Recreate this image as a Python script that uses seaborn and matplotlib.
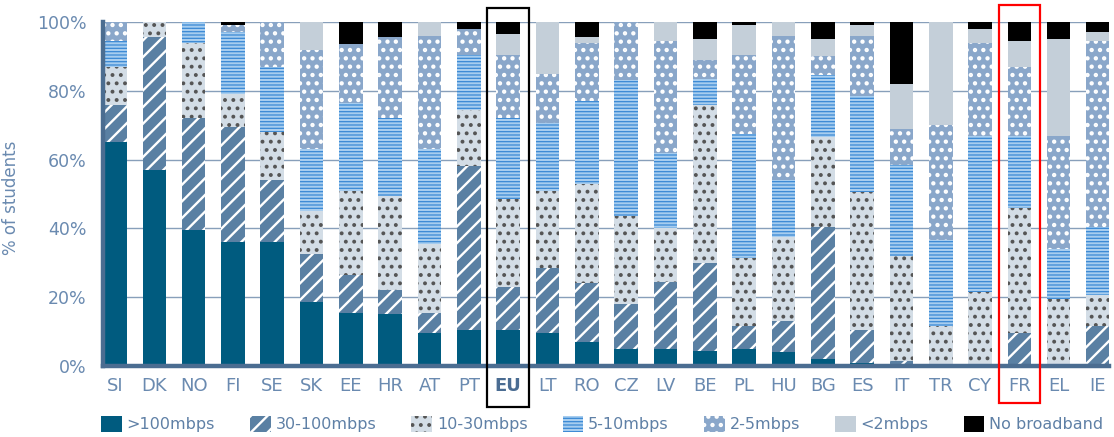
import numpy as np
import pandas as pd
import matplotlib
matplotlib.use("Agg")
import matplotlib.pyplot as plt
import seaborn as sns
from matplotlib.patches import Patch, Rectangle

# ---------------- data ----------------
countries = ["SI", "DK", "NO", "FI", "SE", "SK", "EE", "HR", "AT", "PT", "EU", "LT", "RO",
             "CZ", "LV", "BE", "PL", "HU", "BG", "ES", "IT", "TR", "CY", "FR", "EL", "IE"]
categories = [">100mbps", "30-100mbps", "10-30mbps", "5-10mbps", "2-5mbps", "<2mbps", "No broadband"]

gt100 = [65, 57, 39.5, 36, 36, 18.5, 15.5, 15, 9.5, 10.5, 10.5, 9.5, 7,
         5, 5, 4.5, 5, 4, 2, 1, 0, 0, 0, 0, 0, 0]
m30_100 = [11, 38.5, 32.5, 33.5, 18, 14, 11, 7, 6, 47.5, 12.5, 19, 17,
           13, 19.5, 25.5, 6.5, 9, 38.5, 9.5, 1.5, 0, 0, 9.5, 0, 11.5]
m10_30 = [11, 4.5, 22, 9.5, 14, 12.5, 24.5, 27.5, 20, 16.5, 25.5, 22.5, 29,
          25.5, 15.5, 46, 20, 24.5, 26, 40, 30.5, 11.5, 21.5, 36.5, 19.5, 9]
m5_10 = [7.5, 0, 6, 18, 19, 18, 25.5, 22.5, 27.5, 16, 23.5, 19.5, 24,
         39.5, 22, 7.5, 36, 16.5, 18, 28, 26.5, 25, 45.5, 21, 14.5, 20]
m2_5 = [5.5, 0, 0, 2, 13, 29, 17, 23.5, 33, 7.5, 18.5, 14.5, 17,
        17, 32.5, 5.5, 23, 42, 5.5, 17.5, 10.5, 33.5, 27, 20, 33, 54]
lt2 = [0, 0, 0, 0, 0, 8, 0, 0, 4, 0, 6, 15, 1.5,
       0, 5.5, 6, 8.5, 4, 5, 3, 13, 30, 4, 7.5, 28, 2.5]
no_bb = [0, 0, 0, 1, 0, 0, 6.5, 4.5, 0, 2, 3.5, 0, 4.5,
         0, 0, 5, 1, 0, 5, 1, 18, 0, 2, 5.5, 5, 3]

yticks = [0, 20, 40, 60, 80, 100]
ytick_labels = ["0%", "20%", "40%", "60%", "80%", "100%"]

# ---------------- styles ----------------
# (facecolor, hatch colour, hatch, hatch linewidth)
styles = [
    ("#005b7f", "#005b7f", None, 1.0),
    ("#5a80a3", "#ffffff", "//", 1.7),
    ("#d3dde6", "#555555", "..", 1.6),
    ("#a7cdef", "#3a89d4", "-----", 0.9),
    ("#8aa7ca", "#ffffff", "..", 1.9),
    ("#c4cfd9", "#c4cfd9", None, 1.0),
    ("#000000", "#000000", None, 1.0),
]
text_col = "#6a8ab0"
spine_col = "#4b6d91"

sns.set_style("white")
plt.rcParams["font.family"] = ["DejaVu Sans"]
plt.rcParams["hatch.linewidth"] = 1.3

fig = plt.figure(figsize=(11.14, 4.37), dpi=100)
ax = fig.add_axes([103 / 1114, 71 / 437, 1006 / 1114, 344 / 437])

series = np.array([gt100, m30_100, m10_30, m5_10, m2_5, lt2, no_bb], dtype=float)
cum = np.cumsum(series, axis=0)

for i in reversed(range(len(categories))):
    fc, hc, hatch, hlw = styles[i]
    df = pd.DataFrame({"country": countries, "cum": cum[i]})
    n_before = len(ax.patches)
    sns.barplot(data=df, x="country", y="cum", order=countries, color=fc,
                saturation=1, width=0.6, errorbar=None, linewidth=0,
                edgecolor=hc, hatch=hatch, ax=ax)
    for p in ax.patches[n_before:]:
        if hasattr(p, "set_hatch_linewidth"):
            p.set_hatch_linewidth(hlw)

ax.set_xlim(-0.305, 25.28)
ax.set_ylim(0, 100)
ax.set_yticks(yticks)
ax.set_yticklabels(ytick_labels)
ax.yaxis.grid(True, color="#889fba", linewidth=1.0)
ax.xaxis.grid(False)
ax.set_axisbelow(True)

for s in ["top", "right"]:
    ax.spines[s].set_visible(False)
for s in ["left", "bottom"]:
    ax.spines[s].set_color(spine_col)
    ax.spines[s].set_linewidth(3.2)
    ax.spines[s].set_zorder(5)

ax.tick_params(axis="both", length=0, colors=text_col)
ax.tick_params(axis="y", labelsize=12.5, pad=12)
ax.tick_params(axis="x", labelsize=13, pad=8)
for lab in ax.get_xticklabels():
    if lab.get_text() == "EU":
        lab.set_fontweight("bold")
        lab.set_color("#4a6c92")

ax.set_xlabel("")
ax.set_ylabel("% of students", fontsize=12, color=text_col)
ax.yaxis.set_label_coords(-0.083, 0.49)

# highlight boxes
ax.add_patch(Rectangle((countries.index("EU") - 0.53, -11.8), 1.06, 115.8, fill=False,
                       edgecolor="black", linewidth=1.6, clip_on=False, zorder=10))
ax.add_patch(Rectangle((countries.index("FR") - 0.53, -10.8), 1.06, 115.8, fill=False,
                       edgecolor="#ff0000", linewidth=1.6, clip_on=False, zorder=10))

handles = []
for (fc, hc, hatch, hlw), lab in zip(styles, categories):
    if hatch is None:
        h = Patch(facecolor=fc, edgecolor=fc, linewidth=0, label=lab)
    else:
        h = Patch(facecolor=fc, edgecolor=hc, hatch=hatch, linewidth=0, label=lab)
    handles.append(h)

leg = fig.legend(handles=handles, loc="center", bbox_to_anchor=(0.5405, 0.03), ncol=7,
                 frameon=False, fontsize=11.5, handlelength=1.3, handleheight=1.15,
                 handletextpad=0.3, columnspacing=2.2, labelcolor="#5f80a6",
                 borderaxespad=0, borderpad=0)
for h, st in zip(leg.legend_handles, styles):
    if hasattr(h, "set_hatch_linewidth"):
        h.set_hatch_linewidth(st[3])

fig.savefig("out.png", dpi=100)
